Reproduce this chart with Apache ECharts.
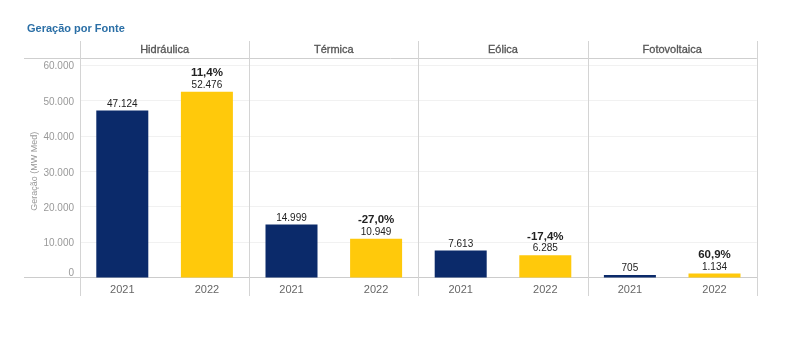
<!DOCTYPE html>
<html>
<head>
<meta charset="utf-8">
<script src="https://cdn.jsdelivr.net/npm/echarts@6/dist/echarts.min.js"></script>
<style>
html,body{margin:0;padding:0;background:#fff;}
#c{width:791px;height:349px;}
</style>
</head>
<body>
<div id="c"></div>
<script>
// ---- data ----
var panels = ['Hidráulica', 'Térmica', 'Eólica', 'Fotovoltaica'];
var years = ['2021', '2022'];
var values2021 = [47124, 14999, 7613, 705];
var values2022 = [52476, 10949, 6285, 1134];
var yTicks = [0, 10000, 20000, 30000, 40000, 50000, 60000];
var title = 'Geração por Fonte';
var yName = 'Geração (MW Med)';

// ---- layout / style ----
var FONT = "'Liberation Sans', Arial, sans-serif";
var C2021 = '#0b2a6a', C2022 = '#ffc90b';
var LEFT = 80, PW = 169.2, TOP = 65, BASE = 277.5, H = 349;
var HEAD_TOP = 41, HEAD_BOT = 58, SEP_BOT = 296, FAR_LEFT = 24;

function fmt(v) {
  return String(v).replace(/\B(?=(\d{3})+(?!\d))/g, '.');
}
function pct(a, b) {
  var p = (b / a - 1) * 100;
  return p.toFixed(1).replace('.', ',') + '%';
}

var grids = [], xAxes = [], yAxes = [], series = [];
panels.forEach(function (name, i) {
  grids.push({ left: LEFT + i * PW, width: PW, top: TOP, bottom: H - BASE, containLabel: false });
  xAxes.push({
    type: 'category', gridIndex: i, data: years,
    axisLine: { show: true, lineStyle: { color: '#cccccc', width: 1 } },
    axisTick: { show: false },
    axisLabel: { color: '#666', fontSize: 11, fontFamily: FONT, margin: 7 }
  });
  yAxes.push({
    type: 'value', gridIndex: i, min: yTicks[0], max: yTicks[yTicks.length - 1], interval: yTicks[1] - yTicks[0],
    axisLine: { show: false }, axisTick: { show: false },
    splitLine: { show: true, lineStyle: { color: '#f1f1f1', width: 1 } },
    axisLabel: i === 0 ? {
      show: true, color: '#999', fontSize: 10, fontFamily: FONT, margin: 6,
      formatter: function (v) { return v === 0 ? '{z|0}' : '{n|' + fmt(v) + '}'; },
      rich: {
        z: { color: '#999', fontSize: 10, fontFamily: FONT, padding: [0, 0, 8, 0] },
        n: { color: '#999', fontSize: 10, fontFamily: FONT, padding: [3, 0, 0, 0] }
      }
    } : { show: false },
    name: i === 0 ? yName : '',
    nameLocation: 'middle', nameGap: 36, nameRotate: 90,
    nameTextStyle: { color: '#999', fontSize: 9, fontFamily: FONT }
  });
  var a = values2021[i], b = values2022[i];
  series.push({
    type: 'bar', xAxisIndex: i, yAxisIndex: i, barWidth: 52,
    data: [
      { value: a, itemStyle: { color: C2021 } },
      { value: b, itemStyle: { color: C2022 } }
    ],
    label: {
      show: true, position: 'top', distance: 1,
      formatter: function (p) {
        if (p.dataIndex === 1) return '{p|' + pct(a, b) + '}\n{v|' + fmt(p.value) + '}';
        return '{v|' + fmt(p.value) + '}';
      },
      rich: {
        p: { fontSize: 11.5, fontWeight: 'bold', color: '#222', fontFamily: FONT, lineHeight: 13 },
        v: { fontSize: 10, color: '#222', fontFamily: FONT, lineHeight: 11 }
      }
    },
    silent: true
  });
});

var graphics = [];
// header bottom line
graphics.push({ type: 'line', shape: { x1: FAR_LEFT, y1: HEAD_BOT + 0.5, x2: LEFT + 4 * PW, y2: HEAD_BOT + 0.5 },
  style: { stroke: '#cfcfcf', lineWidth: 1 }, silent: true });
// baseline extension under y labels
graphics.push({ type: 'line', shape: { x1: FAR_LEFT, y1: BASE, x2: LEFT, y2: BASE },
  style: { stroke: '#cccccc', lineWidth: 1 }, silent: true });
// separators
for (var k = 0; k <= panels.length; k++) {
  var x = Math.round(LEFT + k * PW) + 0.5;
  graphics.push({ type: 'line', shape: { x1: x, y1: HEAD_TOP, x2: x, y2: SEP_BOT },
    style: { stroke: '#d4d4d4', lineWidth: 1 }, silent: true, z: 10 });
}
// header texts
panels.forEach(function (name, i) {
  graphics.push({ type: 'text', x: LEFT + i * PW + PW / 2, y: (HEAD_TOP + HEAD_BOT) / 2 + 0.5,
    style: { text: name, fill: '#555', stroke: '#555', lineWidth: 0.3,
      font: '11px ' + FONT, textAlign: 'center', textVerticalAlign: 'middle' },
    silent: true });
});

var chart = echarts.init(document.getElementById('c'), null, { renderer: 'canvas' });
chart.setOption({
  animation: false,
  backgroundColor: '#ffffff',
  title: { text: title, left: 27, top: 23, padding: 0,
    textStyle: { color: '#2b6fa6', fontSize: 11, fontWeight: 'bold', fontFamily: FONT } },
  grid: grids, xAxis: xAxes, yAxis: yAxes, series: series,
  graphic: graphics
});
</script>
</body>
</html>
